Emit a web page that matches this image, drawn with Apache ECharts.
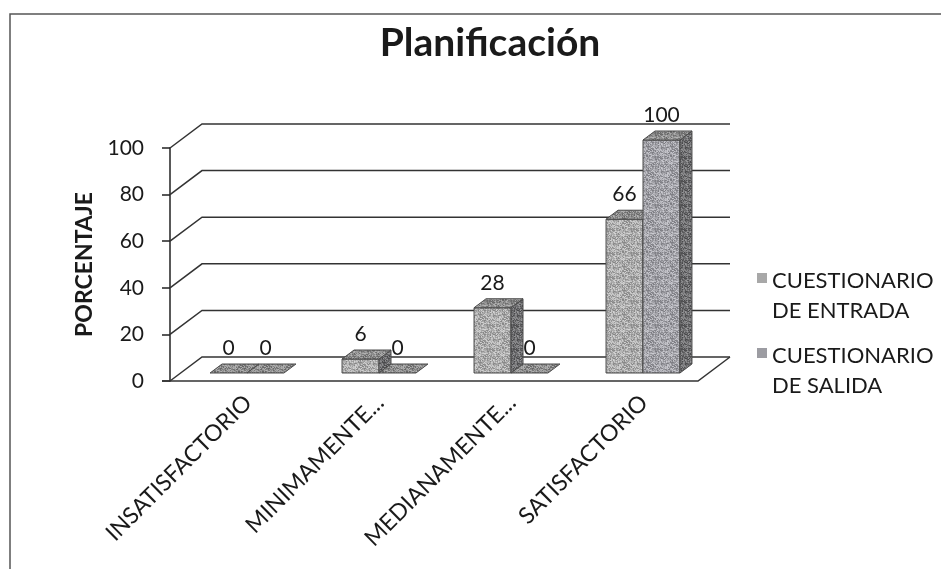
<!DOCTYPE html>
<html><head><meta charset="utf-8">
<script src="https://cdn.jsdelivr.net/npm/echarts@6/dist/echarts.min.js"></script>
<style>html,body{margin:0;padding:0;background:#fff}#c{width:941px;height:569px}</style>
</head><body><div id="c"></div>
<script>
// ---- data ----
const categories = ['INSATISFACTORIO', 'MINIMAMENTE...', 'MEDIANAMENTE...', 'SATISFACTORIO'];
const seriesNames = ['CUESTIONARIO\nDE ENTRADA', 'CUESTIONARIO\nDE SALIDA'];
const entrada = [0, 6, 28, 66];
const salida = [0, 0, 0, 100];
const yTicks = [0, 20, 40, 60, 80, 100];

// ---- styling ----
const FONT = 'Lato';
const DEPTH = [32, -24];     // wall depth offset
const BAR_SHIFT = [11, -8];  // bars sit one third into the depth
const BAR_DEPTH = [12, -9];
const ICON = 'path://M0 0L0.01 0M0 0H10V10H0ZM0 46L0.01 46';

function makeTex(r, g, b) {
  const s = 24, c = document.createElement('canvas');
  c.width = c.height = s;
  const ctx = c.getContext('2d');
  const img = ctx.createImageData(s, s);
  for (let y = 0; y < s; y++) for (let x = 0; x < s; x++) {
    let h = Math.sin(x * 12.9898 + y * 78.233) * 43758.5453;
    h = h - Math.floor(h);
    const d = Math.round((h - 0.5) * 80);
    const i = (y * s + x) * 4;
    img.data[i] = Math.max(0, Math.min(255, r + d));
    img.data[i + 1] = Math.max(0, Math.min(255, g + d));
    img.data[i + 2] = Math.max(0, Math.min(255, b + d));
    img.data[i + 3] = 255;
  }
  ctx.putImageData(img, 0, 0);
  return c;
}
const texFront = [makeTex(172, 172, 172), makeTex(162, 162, 168)];
const texTop = makeTex(140, 140, 140);
const texSide = makeTex(110, 110, 112);

const chart = echarts.init(document.getElementById('c'), null, {renderer: 'canvas'});

function wallItem(params, api) {
  const v = api.value(0);
  const cs = params.coordSys;
  const p = api.coord([0, v]);
  const x0 = cs.x, x1 = cs.x + cs.width, y = p[1];
  const children = [{
    type: 'polyline',
    shape: {points: [[x0, y], [x0 + DEPTH[0], y + DEPTH[1]], [x1 + DEPTH[0], y + DEPTH[1]]]},
    style: {stroke: '#333', lineWidth: 1.5, fill: null}
  }];
  if (v === 0) {
    children.push({
      type: 'polyline',
      shape: {points: [[x0 - 8, y], [x1, y], [x1 + DEPTH[0], y + DEPTH[1]]]},
      style: {stroke: '#333', lineWidth: 1.5, fill: null}
    });
  }
  return {type: 'group', children};
}

function barRenderer(sIdx) {
  return function (params, api) {
    const cat = api.value(0), v = api.value(1);
    const base = api.coord([cat, 0]);
    const top = api.coord([cat, v]);
    const slot = api.size([1, 0])[0];
    const bw = slot * 0.28;
    const x0 = base[0] + BAR_SHIFT[0] + (sIdx === 0 ? -bw : 0);
    const x1 = x0 + bw;
    const yb = base[1] + BAR_SHIFT[1];
    const yt = top[1] + BAR_SHIFT[1];
    const dx = BAR_DEPTH[0], dy = BAR_DEPTH[1];
    const edge = '#4a4a4a';
    const children = [];
    if (yb - yt > 0.5) {
      children.push({type: 'rect', shape: {x: x0, y: yt, width: bw, height: yb - yt},
        style: {fill: {image: texFront[sIdx], repeat: 'repeat'}, stroke: edge, lineWidth: 1}});
      children.push({type: 'polygon', shape: {points: [[x1, yt], [x1 + dx, yt + dy], [x1 + dx, yb + dy], [x1, yb]]},
        style: {fill: {image: texSide, repeat: 'repeat'}, stroke: edge, lineWidth: 1}});
    }
    children.push({type: 'polygon', shape: {points: [[x0, yt], [x1, yt], [x1 + dx, yt + dy], [x0 + dx, yt + dy]]},
      style: {fill: {image: texTop, repeat: 'repeat'}, stroke: edge, lineWidth: 1}});
    children.push({type: 'text', style: {text: String(v), x: x0 + bw / 2, y: yt - 25,
      align: 'center', verticalAlign: 'middle', font: '21px ' + FONT, fill: '#1a1a1a'}});
    return {type: 'group', children};
  };
}

const legendText = {fontFamily: FONT, fontSize: 22, lineHeight: 30, color: '#1a1a1a'};

const option = {
  backgroundColor: '#fff',
  animation: false,
  title: {
    text: 'Planificación', left: 485, top: 19, textAlign: 'center',
    textStyle: {fontFamily: FONT, fontWeight: 'bold', fontSize: 39, color: '#1a1a1a'}
  },
  graphic: [{
    type: 'polyline', shape: {points: [[10, 569], [10, 14], [941, 14]]},
    style: {stroke: '#555', lineWidth: 1.5, fill: null}, silent: true
  }],
  legend: [
    {data: [{name: seriesNames[0], icon: ICON}], orient: 'vertical', left: 752, top: 261,
      itemWidth: 10, itemHeight: 46, itemGap: 6, itemStyle: {borderWidth: 0}, textStyle: legendText},
    {data: [{name: seriesNames[1], icon: ICON}], orient: 'vertical', left: 752, top: 336,
      itemWidth: 10, itemHeight: 46, itemGap: 6, itemStyle: {borderWidth: 0}, textStyle: legendText}
  ],
  grid: [
    {left: 170, top: 148, width: 528, height: 233},
    {left: 182, top: 148, width: 528, height: 233}
  ],
  xAxis: [
    {type: 'category', gridIndex: 0, data: categories, axisLine: {show: false}, axisTick: {show: false}, axisLabel: {show: false}},
    {type: 'category', gridIndex: 1, data: categories, axisLine: {show: false}, axisTick: {show: false},
      axisLabel: {rotate: 45, margin: 18, fontFamily: FONT, fontSize: 23, color: '#1a1a1a', interval: 0}}
  ],
  yAxis: [
    {type: 'value', gridIndex: 0, min: 0, max: 100, interval: 20,
      name: 'PORCENTAJE', nameLocation: 'middle', nameRotate: 90, nameGap: 73,
      nameTextStyle: {fontFamily: FONT, fontWeight: 'bold', fontSize: 23, color: '#1a1a1a'},
      axisLine: {show: true, lineStyle: {color: '#222', width: 1.5}},
      axisTick: {show: true, length: 8, lineStyle: {color: '#222', width: 1.5}},
      axisLabel: {margin: 26, fontFamily: FONT, fontSize: 21, color: '#1a1a1a'},
      splitLine: {show: false}},
    {type: 'value', gridIndex: 1, min: 0, max: 100, interval: 20, show: false, splitLine: {show: false}}
  ],
  series: [
    {type: 'custom', name: 'walls', xAxisIndex: 0, yAxisIndex: 0, z: 1, silent: true,
      renderItem: wallItem, data: yTicks.map(v => [v])},
    {type: 'custom', name: seriesNames[0], xAxisIndex: 0, yAxisIndex: 0, z: 2,
      itemStyle: {color: '#a8a8a8'},
      renderItem: barRenderer(0), data: entrada.map((v, i) => [i, v])},
    {type: 'custom', name: seriesNames[1], xAxisIndex: 0, yAxisIndex: 0, z: 3,
      itemStyle: {color: '#9c9ca2'},
      renderItem: barRenderer(1), data: salida.map((v, i) => [i, v])}
  ]
};
chart.setOption(option);
</script></body></html>
